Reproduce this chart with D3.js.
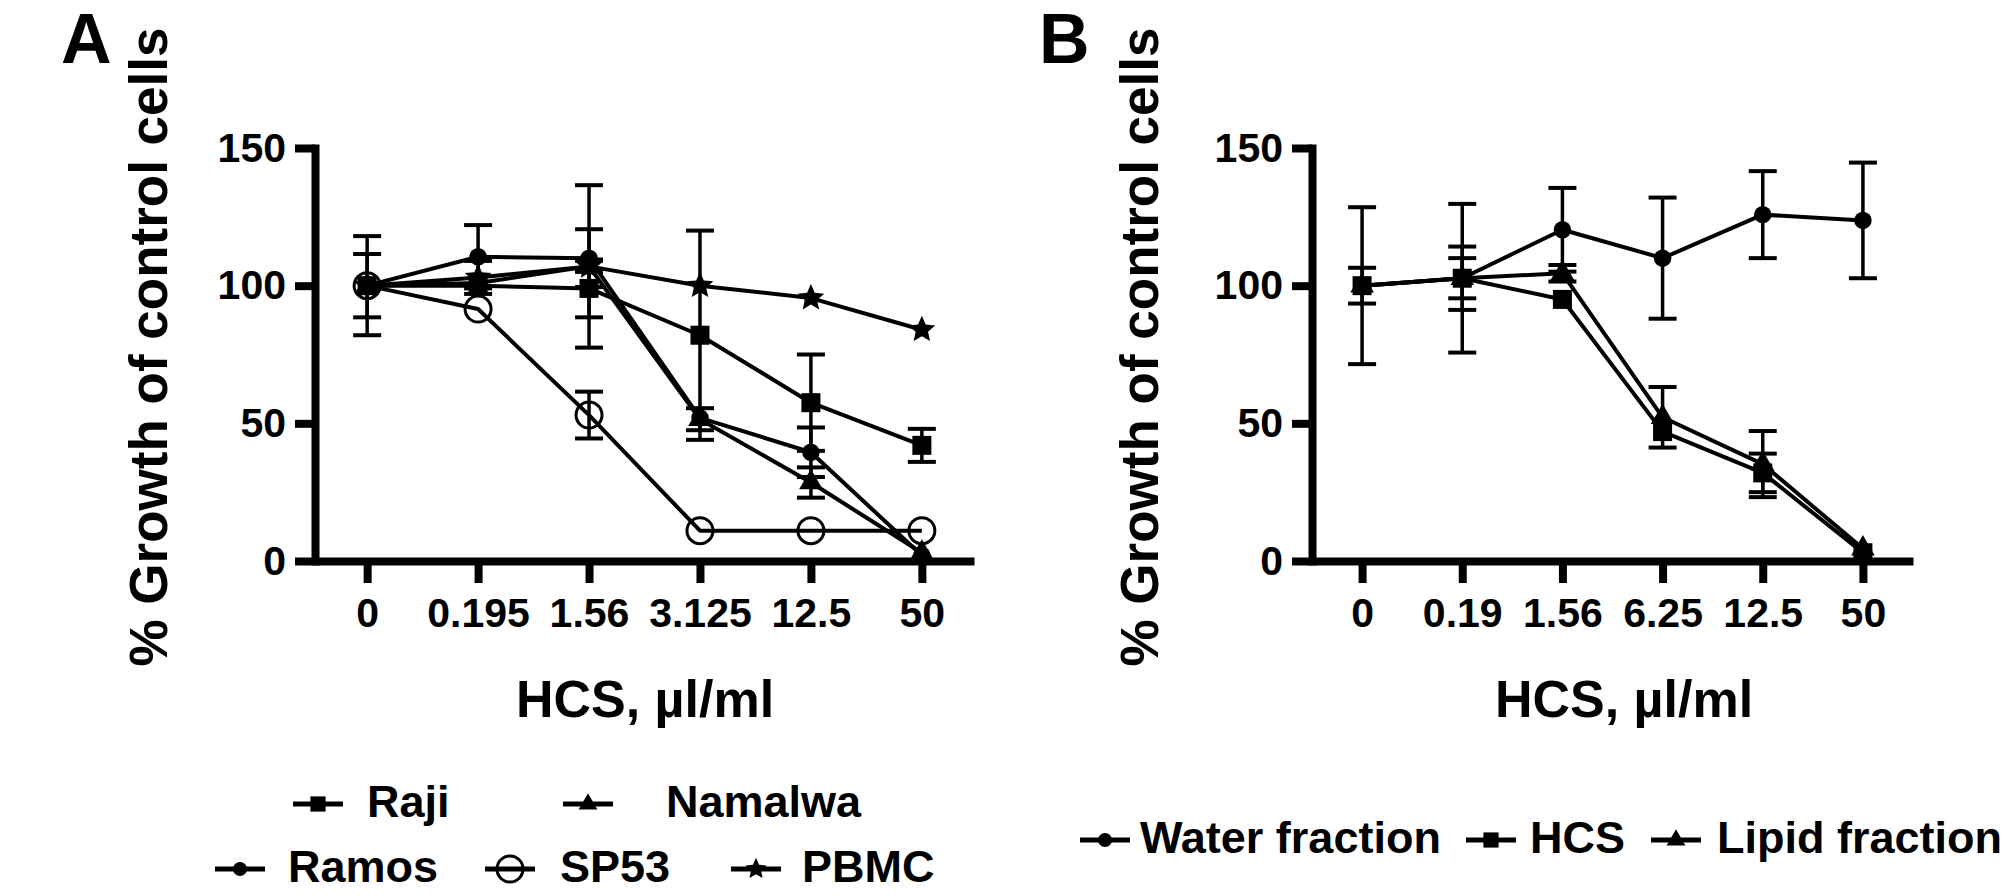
<!DOCTYPE html>
<html>
<head>
<meta charset="utf-8">
<script src="https://cdn.jsdelivr.net/npm/d3@7"></script>
<style>
  body { margin: 0; background: #fff; }
  svg { display: block; font-family: "Liberation Sans", Arial, sans-serif; font-weight: bold; }
</style>
</head>
<body>
<div id="chart"></div>
<script>
// categories / tick labels
var concA = ["0", "0.195", "1.56", "3.125", "12.5", "50"];
var concB = ["0", "0.19", "1.56", "6.25", "12.5", "50"];
var yTicks = [0, 50, 100, 150];

// panel A (mean, SD)
var rajiMean = [100, 100, 99, 82, 57.5, 42];
var rajiErr = [18, 0, 10.5, 38, 17.5, 6];
var ramosMean = [100, 110.5, 110, 52, 39.5, 2];
var ramosErr = [0, 11.5, 10.5, 0, 9, 0];
var namalwaMean = [100, 101, 107, 51.5, 28.5, 3];
var namalwaErr = [11.5, 0, 29.5, 4, 5.5, 0];
var sp53Mean = [100, 91.5, 53, 11, 11, 11];
var sp53Err = [0, 0, 8.5, 0, 0, 0];
var pbmcMean = [100, 103, 107, 100, 95.5, 84];
var pbmcErr = [0, 6, 2, 0, 0, 0];

// panel B (mean, SD)
var waterMean = [100, 102.7, 120.3, 110, 125.8, 123.7];
var waterErr = [28.5, 27, 15.2, 22, 15.8, 21];
var hcsMean = [100, 102.7, 95, 47, 32, 3];
var hcsErr = [6.5, 11.5, 0, 0, 7, 0];
var lipidMean = [100, 102.7, 104.5, 52.2, 35.2, 4.5];
var lipidErr = [0, 7.3, 3, 11, 12, 0];

var seriesA = [
  { name: "Raji", symbol: "square", mean: rajiMean, err: rajiErr },
  { name: "Namalwa", symbol: "triangle", mean: namalwaMean, err: namalwaErr },
  { name: "Ramos", symbol: "circle", mean: ramosMean, err: ramosErr },
  { name: "SP53", symbol: "open", mean: sp53Mean, err: sp53Err },
  { name: "PBMC", symbol: "star", mean: pbmcMean, err: pbmcErr }
];
var seriesB = [
  { name: "Water fraction", symbol: "circle", mean: waterMean, err: waterErr },
  { name: "HCS", symbol: "square", mean: hcsMean, err: hcsErr },
  { name: "Lipid fraction", symbol: "triangle", mean: lipidMean, err: lipidErr }
];

// legend layout (symbol centre x, row y) in the same order as the series
var legendPosA = [[318, 804], [588, 804], [240, 869], [510, 869], [756, 869]];
var legendTextA = [367, 666, 288, 560, 802];
var legendPosB = [[1105, 840], [1491, 840], [1676, 840]];
var legendTextB = [1140, 1530, 1717];

var svg = d3.select("#chart").append("svg")
  .attr("width", 2008)
  .attr("height", 896);

// fatter five-point star than d3.symbolStar
function starPath(ro, ri) {
  var p = d3.path();
  for (var j = 0; j < 10; j++) {
    var r = j % 2 ? ri : ro;
    var a = -Math.PI / 2 + j * Math.PI / 5;
    if (j === 0) p.moveTo(r * Math.cos(a), r * Math.sin(a));
    else p.lineTo(r * Math.cos(a), r * Math.sin(a));
  }
  p.closePath();
  return p.toString();
}

function marker(g, type, cx, cy, k) {
  k = k || 1;
  if (type === "open") {
    g.append("circle")
      .attr("cx", cx).attr("cy", cy).attr("r", 13 * k)
      .style("fill", "none").style("stroke", "#000").style("stroke-width", 3);
    return;
  }
  var d;
  if (type === "star") {
    d = starPath(14 * k, 6.5 * k);
  } else {
    var sym = {
      square: [d3.symbolSquare, 361],
      circle: [d3.symbolCircle, 240],
      triangle: [d3.symbolTriangle, 240]
    }[type];
    d = d3.symbol().type(sym[0]).size(sym[1] * k * k)();
  }
  g.append("path")
    .attr("d", d)
    .attr("transform", "translate(" + cx + "," + cy + ")")
    .style("fill", "#000");
}

function panel(opts) {
  var x = d3.scalePoint()
    .domain(opts.cats)
    .range([opts.left, opts.right])
    .padding(opts.pad);
  var y = d3.scaleLinear()
    .domain([0, 150])
    .range([561, 148]);

  var g = svg.append("g");

  // error bars
  opts.series.forEach(function(s) {
    s.mean.forEach(function(m, i) {
      var e = s.err[i];
      if (!e) return;
      var cx = x(opts.cats[i]);
      g.append("line")
        .attr("x1", cx).attr("x2", cx)
        .attr("y1", y(m + e)).attr("y2", y(m - e))
        .style("stroke", "#000").style("stroke-width", 3.5);
      [m + e, m - e].forEach(function(v) {
        g.append("line")
          .attr("x1", cx - 14).attr("x2", cx + 14)
          .attr("y1", y(v)).attr("y2", y(v))
          .style("stroke", "#000").style("stroke-width", 4);
      });
    });
  });

  // lines
  var line = d3.line()
    .x(function(d, i) { return x(opts.cats[i]); })
    .y(function(d) { return y(d); });
  opts.series.forEach(function(s) {
    g.append("path")
      .attr("d", line(s.mean))
      .style("fill", "none")
      .style("stroke", "#000")
      .style("stroke-width", 4)
      .style("stroke-linejoin", "round");
  });

  // markers
  opts.series.forEach(function(s) {
    s.mean.forEach(function(m, i) {
      marker(g, s.symbol, x(opts.cats[i]), y(m));
    });
  });

  // axes
  var yAxis = g.append("g")
    .attr("transform", "translate(" + opts.left + ",0)")
    .call(d3.axisLeft(y).tickValues(yTicks).tickSize(20).tickSizeOuter(0).tickPadding(9));
  yAxis.select(".domain").style("stroke-width", 8).style("stroke-linecap", "square");

  var xAxis = g.append("g")
    .attr("transform", "translate(0,561)")
    .call(d3.axisBottom(x).tickSize(22).tickSizeOuter(0).tickPadding(15));
  xAxis.select(".domain").style("stroke-width", 8);

  g.selectAll(".tick line").style("stroke-width", 8);
  g.selectAll(".tick text")
    .style("font-family", "'Liberation Sans', Arial, sans-serif")
    .style("font-weight", "bold")
    .style("font-size", "41px")
    .style("fill", "#000");

  // titles
  g.append("text")
    .attr("x", opts.xTitleX).attr("y", 717)
    .attr("text-anchor", "middle")
    .style("font-size", "52px")
    .text("HCS, µl/ml");

  g.append("text")
    .attr("transform", "translate(" + opts.yTitleX + ",347) rotate(-90)")
    .attr("text-anchor", "middle")
    .style("font-size", "53px")
    .text("% Growth of control cells");

  g.append("text")
    .attr("x", opts.letterX).attr("y", 63)
    .style("font-size", "70px")
    .text(opts.letter);

  // legend
  opts.series.forEach(function(s, i) {
    var p = opts.legendPos[i];
    g.append("line")
      .attr("x1", p[0] - 25).attr("x2", p[0] + 25)
      .attr("y1", p[1]).attr("y2", p[1])
      .style("stroke", "#000").style("stroke-width", 5);
    marker(g, s.symbol, p[0], p[1], s.symbol === "open" ? 1 : 0.8);
    g.append("text")
      .attr("x", opts.legendText[i]).attr("y", p[1] + 13)
      .style("font-size", "45px")
      .text(s.name);
  });
}

panel({
  cats: concA, series: seriesA, left: 315, right: 974, pad: 0.47,
  xTitleX: 645, yTitleX: 167, letter: "A", letterX: 61,
  legendPos: legendPosA, legendText: legendTextA
});

panel({
  cats: concB, series: seriesB, left: 1312, right: 1913, pad: 0.5,
  xTitleX: 1624, yTitleX: 1158, letter: "B", letterX: 1039,
  legendPos: legendPosB, legendText: legendTextB
});
</script>
</body>
</html>
